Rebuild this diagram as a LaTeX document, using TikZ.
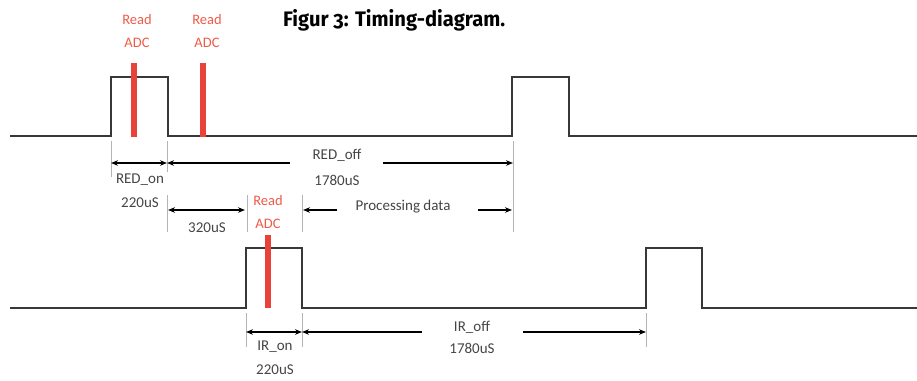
\documentclass[tikz,border=0pt]{standalone}
\usepackage{fontspec}
\setmainfont{Carlito}
\newfontfamily\titlefont[Numbers=OldStyle]{Fira Sans}
\usetikzlibrary{arrows.meta}
\definecolor{sig}{HTML}{383838}
\definecolor{guidegray}{HTML}{B4B4B4}
\definecolor{adc}{HTML}{E8423B}
\definecolor{adctext}{HTML}{EE5A48}
\definecolor{lbl}{HTML}{454545}
\begin{document}
\begin{tikzpicture}[x=1pt,y=-1pt,
  signal/.style={draw=sig, line width=2pt, line join=miter},
  guide/.style={draw=guidegray, line width=1pt},
  adcbar/.style={draw=adc, line width=6.5pt},
  both/.style={draw=black, line width=1.4pt, {Stealth[length=7pt,width=5.5pt]}-{Stealth[length=7pt,width=5.5pt]}},
  toleft/.style={draw=black, line width=1.4pt, {Stealth[length=7pt,width=5.5pt]}-},
  toright/.style={draw=black, line width=1.4pt, -{Stealth[length=7pt,width=5.5pt]}},
  lab/.style={text=lbl, font=\fontsize{15}{16}\selectfont, inner sep=0pt},
  adclab/.style={text=adctext, font=\fontsize{14.5}{23}\selectfont, align=center, inner sep=0pt},
]
\useasboundingbox (0,0) rectangle (917,380);

% title
\node[anchor=base west, inner sep=0pt] (title) at (283,27)
  {\resizebox{222pt}{\height}{\titlefont\bfseries\fontsize{21}{24}\selectfont Figur 3: Timing-diagram.}};

% RED signal
\draw[signal] (10,136) -- (111,136) -- (111,77) -- (168,77) -- (168,136)
  -- (512,136) -- (512,77) -- (569,77) -- (569,136) -- (917,136);
% IR signal
\draw[signal] (10,308) -- (246,308) -- (246,248) -- (302,248) -- (302,308)
  -- (646,308) -- (646,248) -- (702,248) -- (702,308) -- (917,308);

% ADC sample markers
\draw[adcbar] (134,63) -- (134,137);
\draw[adcbar] (203,63) -- (203,137);
\draw[adcbar] (268,235) -- (268,308);

% guide lines
\draw[guide] (111,141) -- (111,177);
\draw[guide] (167,141) -- (167,172);
\draw[guide] (167,195) -- (167,232);
\draw[guide] (247,195) -- (247,232);
\draw[guide] (302,195) -- (302,232);
\draw[guide] (513,141) -- (513,232);
\draw[guide] (246,313) -- (246,347);
\draw[guide] (302,313) -- (302,347);
\draw[guide] (646,313) -- (646,347);

% labels
\node[adclab] (adc1) at (137,31) {Read\\ADC};
\node[adclab] (adc2) at (207,31) {Read\\ADC};
\node[adclab] (adc3) at (268,212) {Read\\ADC};
\node[lab] (redon) at (140,180) {RED\_on};
\node[lab] (redonT) at (140,203) {220uS};
\node[lab] (redoff) at (337,155) {RED\_off};
\node[lab] (redoffT) at (337,180) {1780uS};
\node[lab] (t320) at (207,228) {320uS};
\node[lab] (proc) at (403,207) {Processing data};
\node[lab] (iron) at (275,347) {IR\_on};
\node[lab] (ironT) at (275,370) {220uS};
\node[lab] (iroff) at (472,327) {IR\_off};
\node[lab] (iroffT) at (472,348) {1780uS};

% dimension arrows, RED channel
\coordinate (ra) at (111,163);
\coordinate (rb) at (167,163);
\coordinate (rc) at (290,163);
\coordinate (rd) at (383,163);
\coordinate (re) at (513,163);
\draw[both] (ra) -- (rb);
\draw[toleft] (rb) -- (rc);
\draw[toright] (rd) -- (re);

\coordinate (pa) at (168,210);
\coordinate (pb) at (245,210);
\draw[both] (pa) -- (pb);

\coordinate (qa) at (303,210);
\coordinate (qb) at (337,210);
\coordinate (qc) at (478,210);
\coordinate (qd) at (512,210);
\draw[toleft] (qa) -- (qb);
\draw[toright] (qc) -- (qd);

% dimension arrows, IR channel
\coordinate (ia) at (246,332);
\coordinate (ib) at (302,332);
\coordinate (ic) at (422,332);
\coordinate (id) at (523,332);
\coordinate (ie) at (646,332);
\draw[both] (ia) -- (ib);
\draw[toleft] (ib) -- (ic);
\draw[toright] (id) -- (ie);
\end{tikzpicture}
\end{document}
